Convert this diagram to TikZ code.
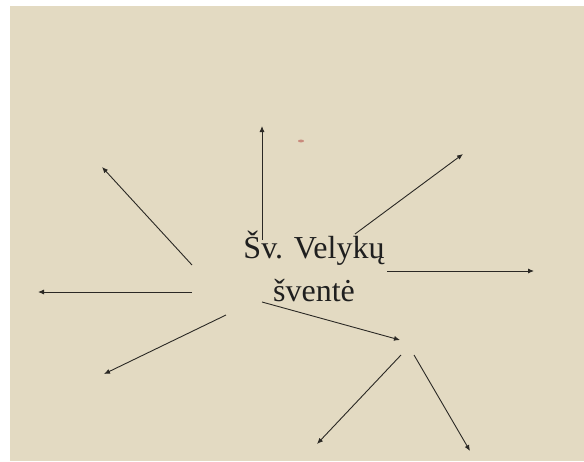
\documentclass[tikz,border=0pt]{standalone}
\usepackage{fontspec}
\setmainfont{Liberation Serif}
\usetikzlibrary{arrows.meta,positioning}
\definecolor{paper}{HTML}{E3DAC2}
\definecolor{ink}{HTML}{2A2824}
\definecolor{smudge}{HTML}{C98A7C}

\begin{document}
\begin{tikzpicture}[x=1pt, y=-1pt,
      title/.style={font=\fontsize{32}{43}\selectfont, align=center, inner sep=0pt, text=black!88},
      arr/.style={-{Latex[length=6pt,width=5pt]}, line width=0.9pt, color=ink}]
    \useasboundingbox (0,0) rectangle (584,461);
    \fill[white] (0,0) rectangle (584,461);
    \fill[paper] (10,6) rectangle (584,461);
    \fill[smudge] (301,141) ellipse (3 and 1.4);
    \node[title] (fest) at (314,266) {Šv. Velykų\\šventė};
    % starts of the arrows round the title
    \coordinate (n0) at (262,240);
    \coordinate (ne0) at (355,234);
    \coordinate (e0) at (387,271);
    \coordinate (se0) at (262,302);
    \coordinate (sw0) at (226,315);
    \coordinate (w0) at (192,292);
    \coordinate (nw0) at (192,265);
    % second hub
    \coordinate (hubl) at (401,355);
    \coordinate (hubr) at (414,355);
    % free ends
    \coordinate (n1) at (262,126);
    \coordinate (ne1) at (463,154);
    \coordinate (e1) at (534,271);
    \coordinate (se1) at (400,340);
    \coordinate (sw1) at (104,374);
    \coordinate (w1) at (38,292);
    \coordinate (nw1) at (102,167);
    \coordinate (hubl1) at (317,444);
    \coordinate (hubr1) at (470,451);
    \draw[arr] (n0) -- (n1);
    \draw[arr] (ne0) -- (ne1);
    \draw[arr] (e0) -- (e1);
    \draw[arr] (se0) -- (se1);
    \draw[arr] (sw0) -- (sw1);
    \draw[arr] (w0) -- (w1);
    \draw[arr] (nw0) -- (nw1);
    \draw[arr] (hubl) -- (hubl1);
    \draw[arr] (hubr) -- (hubr1);
  \end{tikzpicture}
\end{document}
